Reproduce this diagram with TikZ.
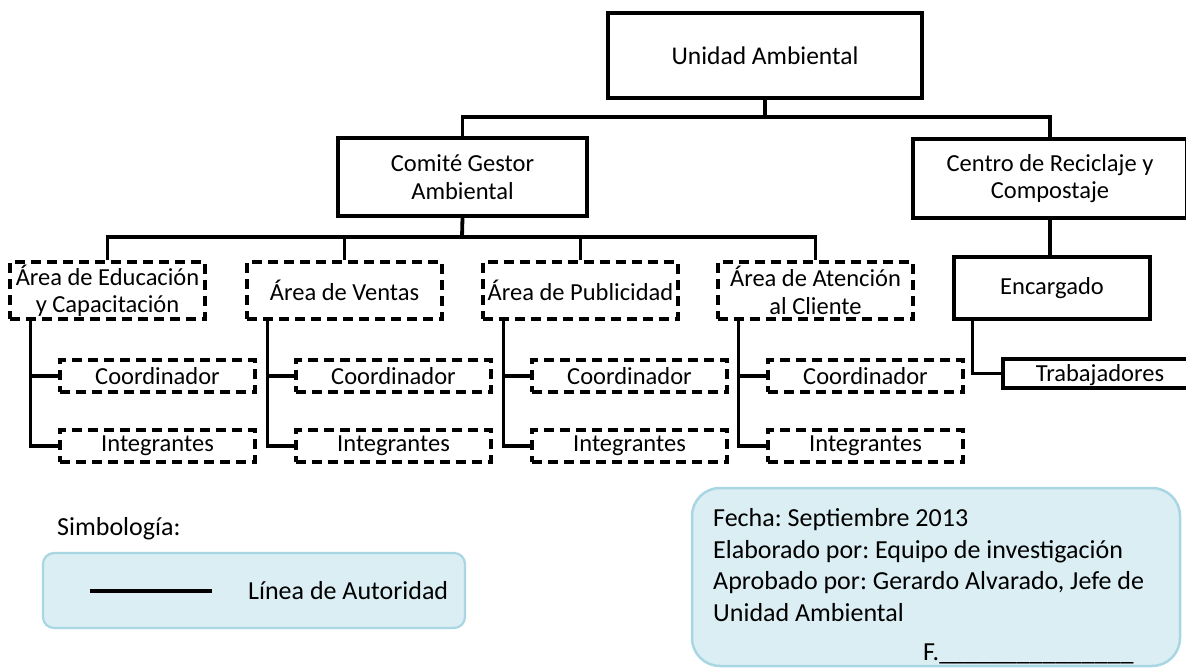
\documentclass[tikz,border=0pt]{standalone}
\usepackage{fontspec}
\setmainfont{Carlito}
\frenchspacing
\definecolor{legendfill}{HTML}{DAEEF3}
\definecolor{legendline}{HTML}{A9D6E3}
\begin{document}
\begin{tikzpicture}[x=1pt,y=-1pt,
    box/.style={draw=black,line width=3.2pt,inner sep=0pt,align=center,
      font=\fontsize{24.5}{27.5}\selectfont},
    dbox/.style={box,dash pattern=on 10pt off 6pt},
    link/.style={line width=3.8pt},
    txt/.style={inner sep=0pt,font=\fontsize{26}{31.5}\selectfont}]
    \useasboundingbox (0,0) rectangle (1186,668);

    % Top level
    \node[box,minimum width=314pt,minimum height=85pt,font=\fontsize{25.5}{28}\selectfont] (ua) at (765,55.5) {Unidad Ambiental};
    \node[box,minimum width=249pt,minimum height=78pt] (cga) at (462.5,177) {Comité Gestor\\Ambiental};
    \node[box,minimum width=274pt,minimum height=79pt] (crc) at (1050,178.5) {Centro de Reciclaje y\\Compostaje};
    \coordinate (bus1) at (765,117);
    \draw[link] (ua.south) -- (bus1);
    \draw[link] (cga.north) |- (bus1) -| (crc.north);

    % Centro de Reciclaje branch
    \node[box,minimum width=196pt,minimum height=62pt] (enc) at (1052,288) {Encargado};
    \node[box,minimum width=194pt,minimum height=29pt,text height=17pt,text depth=2pt] (trab) at (1100,373.5) {Trabajadores};
    \draw[link] (crc.south) -- (crc.south |- enc.north);
    \draw[link] ([xshift=20pt]enc.south west) |- (trab.west);

    % Areas of the Comite
    \node[dbox,minimum width=195pt,minimum height=57pt] (a1) at (107.5,290.5) {Área de Educación\\y Capacitación};
    \node[dbox,minimum width=195pt,minimum height=57pt] (a2) at (344.5,290.5) {Área de Ventas};
    \node[dbox,minimum width=195pt,minimum height=57pt] (a3) at (580.5,290.5) {Área de Publicidad};
    \node[dbox,minimum width=195pt,minimum height=57pt] (a4) at (815.5,290.5) {Área de Atención\\al Cliente};
    \coordinate (bus2) at (462,237);
    \draw[link] (cga.south) -- (bus2);
    \draw[link] (a1.north) |- (bus2) -| (a4.north);
    \draw[link] (a2.north) -- (a2.north |- bus2);
    \draw[link] (a3.north) -- (a3.north |- bus2);

    % Area 1
    \node[dbox,minimum width=195pt,minimum height=32pt] (c1) at (157.5,376) {Coordinador};
    \node[dbox,minimum width=195pt,minimum height=32pt] (i1) at (157.5,446) {Integrantes};
    \draw[link] ([xshift=22pt]a1.south west) |- (c1.west);
    \draw[link] ([xshift=22pt]a1.south west) |- (i1.west);

    % Area 2
    \node[dbox,minimum width=195pt,minimum height=32pt] (c2) at (393.5,376) {Coordinador};
    \node[dbox,minimum width=195pt,minimum height=32pt] (i2) at (393.5,446) {Integrantes};
    \draw[link] ([xshift=22pt]a2.south west) |- (c2.west);
    \draw[link] ([xshift=22pt]a2.south west) |- (i2.west);

    % Area 3
    \node[dbox,minimum width=195pt,minimum height=32pt] (c3) at (629.5,376) {Coordinador};
    \node[dbox,minimum width=195pt,minimum height=32pt] (i3) at (629.5,446) {Integrantes};
    \draw[link] ([xshift=22pt]a3.south west) |- (c3.west);
    \draw[link] ([xshift=22pt]a3.south west) |- (i3.west);

    % Area 4
    \node[dbox,minimum width=195pt,minimum height=32pt] (c4) at (865.5,376) {Coordinador};
    \node[dbox,minimum width=195pt,minimum height=32pt] (i4) at (865.5,446) {Integrantes};
    \draw[link] ([xshift=22pt]a4.south west) |- (c4.west);
    \draw[link] ([xshift=22pt]a4.south west) |- (i4.west);

    % Legend
    \node[txt,anchor=base west] (simb) at (57,535) {Simbología:};
    \draw[draw=legendline,fill=legendfill,line width=2.2pt,rounded corners=11pt] (43,553) rectangle (465,628);
    \coordinate (ls) at (90,591);
    \coordinate (le) at (212,591);
    \draw[line width=4.5pt] (ls) -- (le);
    \node[txt,anchor=west] (lin) at (248,591) {Línea de Autoridad};

    % Info box
    \draw[draw=legendline,fill=legendfill,line width=2.5pt,rounded corners=28pt] (692,488) rectangle (1180,666);
    \node[txt,anchor=north west,align=left] (info) at (713,508.5)
      {Fecha: Septiembre 2013\\Elaborado por: Equipo de investigación\\Aprobado por: Gerardo Alvarado, Jefe de\\Unidad Ambiental};
    \node[txt,anchor=base west] (firma) at (923,660)
      {F.\_\_\_\_\_\_\_\_\_\_\_\_\_\_\_};
\end{tikzpicture}
\end{document}
